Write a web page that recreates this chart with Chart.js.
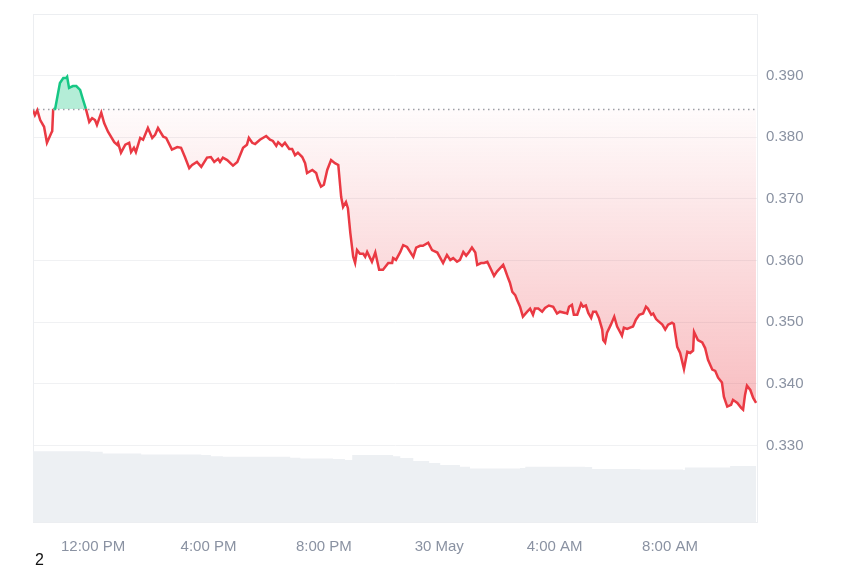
<!DOCTYPE html>
<html>
<head>
<meta charset="utf-8">
<script src="https://cdn.jsdelivr.net/npm/chart.js@4"></script>
<style>
    body { margin: 0; background: #fff; }
    #wrap { position: relative; width: 850px; height: 567px; }
    #note { position: absolute; left: 35px; top: 551px; font: 16px 'Liberation Sans', Arial, sans-serif; color: #111; }
</style>
</head>
<body>
<div id="wrap">
    <canvas id="chart" width="850" height="567"></canvas>
    <div id="note">2</div>
</div>
<script>
// minutes since 12:00 PM on 29 May
const minutes = [
    -125, -121, -116, -110, -102, -96, -87, -85, -83, -79,
    -69, -62, -56, -54, -50, -42, -35, -27, -21, -15,
    -8, -2, 4, 8, 17, 23, 31, 44, 50, 52,
    58, 67, 75, 79, 85, 89, 98, 104, 114, 123,
    129, 135, 146, 152, 164, 175, 183, 191, 200, 206,
    216, 225, 237, 245, 252, 260, 264, 270, 279, 291,
    300, 312, 320, 324, 331, 337, 347, 360, 368, 374,
    381, 385, 393, 399, 408, 414, 420, 426, 435, 441,
    445, 456, 464, 468, 474, 480, 487, 495, 503, 510,
    516, 520, 526, 530, 535, 541, 545, 549, 555, 562,
    566, 570, 580, 587, 595, 603, 614, 622, 624, 630,
    639, 645, 653, 666, 672, 680, 686, 697, 705, 716,
    728, 736, 743, 749, 757, 763, 770, 776, 782, 788,
    795, 799, 807, 813, 820, 828, 834, 840, 847, 853,
    857, 863, 867, 872, 878, 882, 888, 894, 903, 909,
    915, 919, 926, 934, 940, 948, 957, 965, 971, 982,
    986, 990, 996, 1000, 1007, 1015, 1019, 1025, 1030, 1036,
    1040, 1046, 1052, 1059, 1061, 1065, 1069, 1077, 1084, 1090,
    1096, 1100, 1104, 1111, 1117, 1123, 1129, 1136, 1144, 1150,
    1154, 1161, 1165, 1171, 1175, 1184, 1190, 1196, 1204, 1208,
    1215, 1221, 1229, 1236, 1242, 1248, 1250, 1258, 1267, 1273,
    1279, 1288, 1294, 1300, 1308, 1312, 1319, 1327, 1331, 1340,
    1348, 1352, 1356, 1360, 1367, 1373, 1379
]

const prices = [
    0.3844, 0.3836, 0.3844, 0.3828, 0.3817, 0.3791, 0.3807, 0.3810, 0.3846, 0.3846,
    0.3888, 0.3896, 0.3896, 0.3898, 0.3880, 0.3883, 0.3883, 0.3877, 0.3861, 0.3846,
    0.3825, 0.3831, 0.3828, 0.3820, 0.3840, 0.3823, 0.3809, 0.3792, 0.3788, 0.3791,
    0.3775, 0.3788, 0.3791, 0.3776, 0.3783, 0.3776, 0.3799, 0.3796, 0.3815, 0.3799,
    0.3804, 0.3815, 0.3801, 0.3799, 0.3780, 0.3784, 0.3783, 0.3768, 0.3750, 0.3755,
    0.3760, 0.3752, 0.3767, 0.3768, 0.3760, 0.3765, 0.3760, 0.3767, 0.3763, 0.3754,
    0.3760, 0.3783, 0.3788, 0.3799, 0.3791, 0.3789, 0.3796, 0.3802, 0.3796, 0.3794,
    0.3786, 0.3792, 0.3786, 0.3791, 0.3781, 0.3781, 0.3771, 0.3775, 0.3768, 0.3758,
    0.3742, 0.3747, 0.3742, 0.3731, 0.3720, 0.3723, 0.3747, 0.3763, 0.3758, 0.3755,
    0.3703, 0.3687, 0.3695, 0.3685, 0.3645, 0.3606, 0.3596, 0.3617, 0.3611, 0.3611,
    0.3606, 0.3614, 0.3598, 0.3613, 0.3585, 0.3585, 0.3596, 0.3596, 0.3604, 0.3601,
    0.3614, 0.3625, 0.3622, 0.3606, 0.3621, 0.3624, 0.3624, 0.3629, 0.3617, 0.3613,
    0.3596, 0.3609, 0.3601, 0.3604, 0.3598, 0.3601, 0.3614, 0.3608, 0.3614, 0.3621,
    0.3613, 0.3593, 0.3596, 0.3596, 0.3598, 0.3585, 0.3575, 0.3582, 0.3588, 0.3593,
    0.3585, 0.3572, 0.3564, 0.3549, 0.3544, 0.3536, 0.3525, 0.3509, 0.3517, 0.3522,
    0.3512, 0.3522, 0.3522, 0.3517, 0.3523, 0.3527, 0.3525, 0.3514, 0.3517, 0.3515,
    0.3514, 0.3525, 0.3528, 0.3512, 0.3512, 0.3530, 0.3525, 0.3527, 0.3515, 0.3507,
    0.3517, 0.3517, 0.3507, 0.3488, 0.3471, 0.3467, 0.3483, 0.3496, 0.3509, 0.3493,
    0.3484, 0.3478, 0.3491, 0.3489, 0.3491, 0.3493, 0.3504, 0.3512, 0.3514, 0.3525,
    0.3522, 0.3512, 0.3514, 0.3505, 0.3502, 0.3496, 0.3488, 0.3496, 0.3499, 0.3497,
    0.3460, 0.3450, 0.3424, 0.3452, 0.3450, 0.3454, 0.3484, 0.3471, 0.3467, 0.3458,
    0.3439, 0.3423, 0.3421, 0.3410, 0.3402, 0.3379, 0.3363, 0.3366, 0.3374, 0.3369,
    0.3361, 0.3358, 0.3382, 0.3397, 0.3390, 0.3377, 0.3369
]

const volumeMinutes = [
    -125, -70, -6, 20, 100, 225, 245, 270, 410, 431,
    499, 524, 539, 607, 624, 639, 666, 699, 722, 763,
    784, 888, 899, 1023, 1038, 1138, 1227, 1231, 1325, 1379
]
const volumes = [
    8.37, 8.37, 8.29, 8.10, 7.96, 7.90, 7.78, 7.70, 7.58, 7.51,
    7.43, 7.31, 7.90, 7.90, 7.78, 7.55, 7.19, 6.96, 6.72, 6.52,
    6.33, 6.37, 6.52, 6.49, 6.25, 6.19, 6.13, 6.45, 6.60, 6.60
]

const baseline = 0.3846
const priceTicks = [0.33, 0.34, 0.35, 0.36, 0.37, 0.38, 0.39]
const timeTicks = [0, 240, 480, 720, 960, 1200]
const timeLabels = ['12:00 PM', '4:00 PM', '8:00 PM', '30 May', '4:00 AM', '8:00 AM']

const red = '#ea3943'
const green = '#16c784'
const tickFont = { family: "'Liberation Sans', Arial, sans-serif", size: 15 }

function redGradient(context) {
    const chart = context.chart
    const area = chart.chartArea
    if (!area) return 'rgba(234,57,67,0.1)'
    const top = chart.scales.y.getPixelForValue(baseline)
    const g = chart.ctx.createLinearGradient(0, top, 0, area.bottom)
    g.addColorStop(0, 'rgba(234,57,67,0.02)')
    g.addColorStop(1, 'rgba(234,57,67,0.45)')
    return g
}

const framePlugin = {
    id: 'frame',
    beforeDatasetsDraw(chart) {
        const { ctx, chartArea: a } = chart
        ctx.save()
        ctx.strokeStyle = '#eceef1'
        ctx.lineWidth = 1
        ctx.strokeRect(a.left + 0.5, a.top + 0.5, a.right - a.left - 1, a.bottom - a.top)
        ctx.restore()
    },
    afterDatasetsDraw(chart) {
        const { ctx, chartArea: a } = chart
        const y = Math.round(chart.scales.y.getPixelForValue(baseline)) + 0.5
        ctx.save()
        ctx.strokeStyle = '#9b9fa6'
        ctx.lineWidth = 1.5
        ctx.setLineDash([1.5, 3.5])
        ctx.beginPath()
        ctx.moveTo(a.left, y)
        ctx.lineTo(a.right, y)
        ctx.stroke()
        ctx.restore()
    }
}

new Chart(document.getElementById('chart'), {
    type: 'line',
    data: {
        datasets: [
            {
                label: 'Price',
                data: minutes.map((m, i) => ({ x: m, y: prices[i] })),
                yAxisID: 'y',
                order: 0,
                borderWidth: 2.5,
                borderColor: red,
                pointRadius: 0,
                tension: 0,
                backgroundColor: redGradient,
                fill: { target: { value: baseline }, above: 'rgba(22,199,132,0.32)' },
                segment: {
                    borderColor: ctx => (ctx.p0.parsed.y >= baseline && ctx.p1.parsed.y >= baseline) ? green : red
                }
            },
            {
                label: 'Volume',
                data: volumeMinutes.map((m, i) => ({ x: m, y: volumes[i] })),
                yAxisID: 'vol',
                order: 1,
                stepped: true,
                borderWidth: 0,
                pointRadius: 0,
                backgroundColor: '#edf0f3',
                fill: 'origin'
            }
        ]
    },
    options: {
        responsive: false,
        animation: false,
        events: [],
        layout: { padding: { left: 33, top: 14, right: 0, bottom: 0 } },
        plugins: { legend: { display: false }, tooltip: { enabled: false } },
        scales: {
            x: {
                type: 'linear',
                min: -125,
                max: 1383,
                grid: { display: false },
                border: { display: false },
                afterBuildTicks: scale => { scale.ticks = timeTicks.map(v => ({ value: v })) },
                afterFit: scale => { scale.height = 45 },
                ticks: {
                    autoSkip: false,
                    maxRotation: 0,
                    padding: 8,
                    color: '#8a92a2',
                    font: tickFont,
                    callback: (value, index) => timeLabels[index]
                }
            },
            y: {
                position: 'right',
                min: 0.31758,
                max: 0.4,
                grid: { color: '#f0f1f3', drawTicks: false },
                border: { display: false },
                afterBuildTicks: scale => { scale.ticks = priceTicks.map(v => ({ value: v })) },
                afterFit: scale => {
                    scale.width = 92
                    scale.paddingTop = 0
                    scale.paddingBottom = 0
                },
                ticks: {
                    padding: 8,
                    color: '#8a92a2',
                    font: tickFont,
                    callback: value => value.toFixed(3)
                }
            },
            vol: {
                display: false,
                min: 0,
                max: 60
            }
        }
    },
    plugins: [framePlugin]
})
</script>
</body>
</html>
